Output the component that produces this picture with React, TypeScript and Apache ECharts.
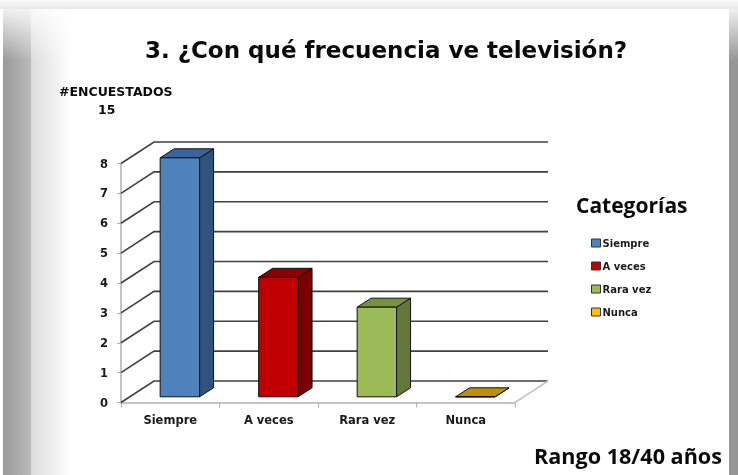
import React, { useEffect, useRef } from "react";
import * as echarts from "echarts";

const categories = ["Siempre", "A veces", "Rara vez", "Nunca"];
const values = [8, 4, 3, 0];
const frontColors = ["#4F81BD", "#C00000", "#9BBB59", "#FFC000"];
const topColors = ["#3C639A", "#8E0000", "#76923C", "#BF9000"];
const sideColors = ["#31527A", "#7A0000", "#64783A", "#A67C00"];
const yTicks = [0, 1, 2, 3, 4, 5, 6, 7, 8];
const FONT = "'DejaVu Sans', Verdana, sans-serif";
const FONT2 = "'Open Sans', 'Noto Sans', sans-serif";

const DX = 14;
const DY = -9;
const WX = 33;
const WY = -21.5;

export default function App() {
  const ref = useRef<HTMLDivElement>(null);
  useEffect(() => {
    const chart = echarts.init(ref.current!, null, { renderer: "svg" });
    const wallSeries: any = {
      type: "custom",
      name: "wall",
      coordinateSystem: "cartesian2d",
      silent: true,
      z: 1,
      clip: false,
      data: yTicks.map((v) => [0, v]),
      renderItem: (_p: any, api: any) => {
        const v = api.value(1);
        const band = api.size([1, 0])[0];
        const [c0, y] = api.coord([0, v]);
        const [c3] = api.coord([3, v]);
        const x0 = c0 - band / 2;
        const x1 = c3 + band / 2;
        const pts = [[x0, y], [x0 + WX, y + WY], [x1 + WX, y + WY]];
        const children: any[] = [
          { type: "polyline", shape: { points: pts }, style: { stroke: "#404040", lineWidth: 1.6, fill: "none" } },
        ];
        if (v === 0) {
          children.push({
            type: "line",
            shape: { x1, y1: y, x2: x1 + WX, y2: y + WY },
            style: { stroke: "#c4c4c4", lineWidth: 1.5 },
          });
        }
        return { type: "group", children };
      },
    };
    const barSeries: any[] = categories.map((name, i) => ({
      type: "custom",
      name,
      coordinateSystem: "cartesian2d",
      z: 3,
      clip: false,
      itemStyle: { color: frontColors[i], borderColor: "#1a1a1a", borderWidth: 1 },
      data: [[i, values[i]]],
      renderItem: (_p: any, api: any) => {
        const c = api.value(0);
        const v = api.value(1);
        const [cx, yBase] = api.coord([c, 0]);
        const [, yTop0] = api.coord([c, v]);
        const shiftX = 9.6;
        const shiftY = -5.7;
        const l = cx + shiftX - 19.7;
        const r = cx + shiftX + 19.7;
        const b = yBase + shiftY;
        const t = yTop0 + shiftY;
        const line = { stroke: "#111", lineWidth: 1 };
        return {
          type: "group",
          children: [
            { type: "polygon", shape: { points: [[r, t], [r + DX, t + DY], [r + DX, b + DY], [r, b]] }, style: { fill: sideColors[i], ...line } },
            { type: "polygon", shape: { points: [[l, t], [l + DX, t + DY], [r + DX, t + DY], [r, t]] }, style: { fill: topColors[i], ...line } },
            { type: "rect", shape: { x: l, y: t, width: r - l, height: b - t }, style: { fill: frontColors[i], ...line } },
          ],
        };
      },
    }));
    const grad = (x: number, y: number, x2: number, y2: number, stops: [number, string][]) =>
      new echarts.graphic.LinearGradient(x, y, x2, y2, stops.map(([offset, color]) => ({ offset, color })));
    const fadeTop = grad(0, 0, 0, 1, [[0, "rgba(255,255,255,0.85)"], [1, "rgba(255,255,255,0)"]]);
    chart.setOption({
      animation: false,
      textStyle: { fontFamily: FONT },
      grid: { left: 121, right: 223, top: 163.5, bottom: 72.5 },
      xAxis: {
        type: "category",
        data: categories,
        axisLine: { lineStyle: { color: "#c4c4c4", width: 2 } },
        axisTick: { show: true, alignWithLabel: false, length: 5, lineStyle: { color: "#b0b0b0", width: 1 } },
        axisLabel: { color: "#1a1a1a", fontWeight: "bold", fontSize: 11.5, margin: 11, fontFamily: FONT },
        splitLine: { show: false },
      },
      yAxis: {
        type: "value",
        min: 0,
        max: 8,
        interval: 1,
        axisLine: { show: true, lineStyle: { color: "#c4c4c4", width: 2 } },
        axisTick: { show: true, length: 4, lineStyle: { color: "#b0b0b0" } },
        axisLabel: { color: "#1a1a1a", fontWeight: "bold", fontSize: 11.5, margin: 13, fontFamily: FONT },
        splitLine: { show: false },
      },
      legend: {
        orient: "vertical",
        left: 586,
        top: 233,
        itemWidth: 9,
        itemHeight: 8,
        itemGap: 13,
        icon: "rect",
        data: categories,
        selectedMode: false,
        itemStyle: { borderColor: "#333", borderWidth: 1 },
        textStyle: { color: "#1a1a1a", fontWeight: "bold", fontSize: 10, padding: [0, 0, 0, -3], fontFamily: FONT },
      },
      graphic: [
        { type: "rect", z: -10, silent: true, shape: { x: 0, y: 0, width: 738, height: 475 }, style: { fill: "#fff" } },
        { type: "rect", z: -9, silent: true, shape: { x: 0, y: 0, width: 738, height: 9 }, style: { fill: grad(0, 0, 0, 1, [[0, "#fafafa"], [1, "#e8e8e8"]]) } },
        { type: "rect", z: -8, silent: true, shape: { x: 3, y: 9, width: 28, height: 466 }, style: { fill: grad(0, 0, 1, 0, [[0, "#999999"], [1, "#bababa"]]) } },
        { type: "rect", z: -8, silent: true, shape: { x: 31, y: 9, width: 40, height: 466 }, style: { fill: grad(0, 0, 1, 0, [[0, "#dcdcdc"], [1, "#ffffff"]]) } },
        { type: "rect", z: -8, silent: true, shape: { x: 729, y: 9, width: 9, height: 466 }, style: { fill: "#959595" } },
        { type: "rect", z: -7, silent: true, shape: { x: 3, y: 9, width: 68, height: 52 }, style: { fill: fadeTop } },
        { type: "rect", z: -7, silent: true, shape: { x: 729, y: 9, width: 9, height: 52 }, style: { fill: fadeTop } },
        { type: "text", style: { x: 386, y: 50, text: "3. ¿Con qué frecuencia ve televisión?", fontSize: 23, fontWeight: "bold", fontFamily: FONT, fill: "#0a0a0a", align: "center", verticalAlign: "middle" } },
        { type: "text", style: { x: 59, y: 91, text: "#ENCUESTADOS", fontSize: 12.5, fontWeight: "bold", fontFamily: FONT, fill: "#0a0a0a", verticalAlign: "middle" } },
        { type: "text", style: { x: 98, y: 109, text: "15", fontSize: 12.5, fontWeight: "bold", fontFamily: FONT, fill: "#0a0a0a", verticalAlign: "middle" } },
        { type: "text", style: { x: 576, y: 205, text: "Categorías", fontSize: 21, fontWeight: "bold", fontFamily: FONT2, fill: "#0a0a0a", verticalAlign: "middle" } },
        { type: "text", style: { x: 534, y: 455, text: "Rango 18/40 años", fontSize: 21.6, fontWeight: "bold", fontFamily: FONT2, fill: "#0a0a0a", verticalAlign: "middle" } },
      ],
      series: [wallSeries, ...barSeries],
    });
    return () => chart.dispose();
  }, []);
  return <div ref={ref} style={{ position: "fixed", left: 0, top: 0, width: 738, height: 475 }} />;
}
